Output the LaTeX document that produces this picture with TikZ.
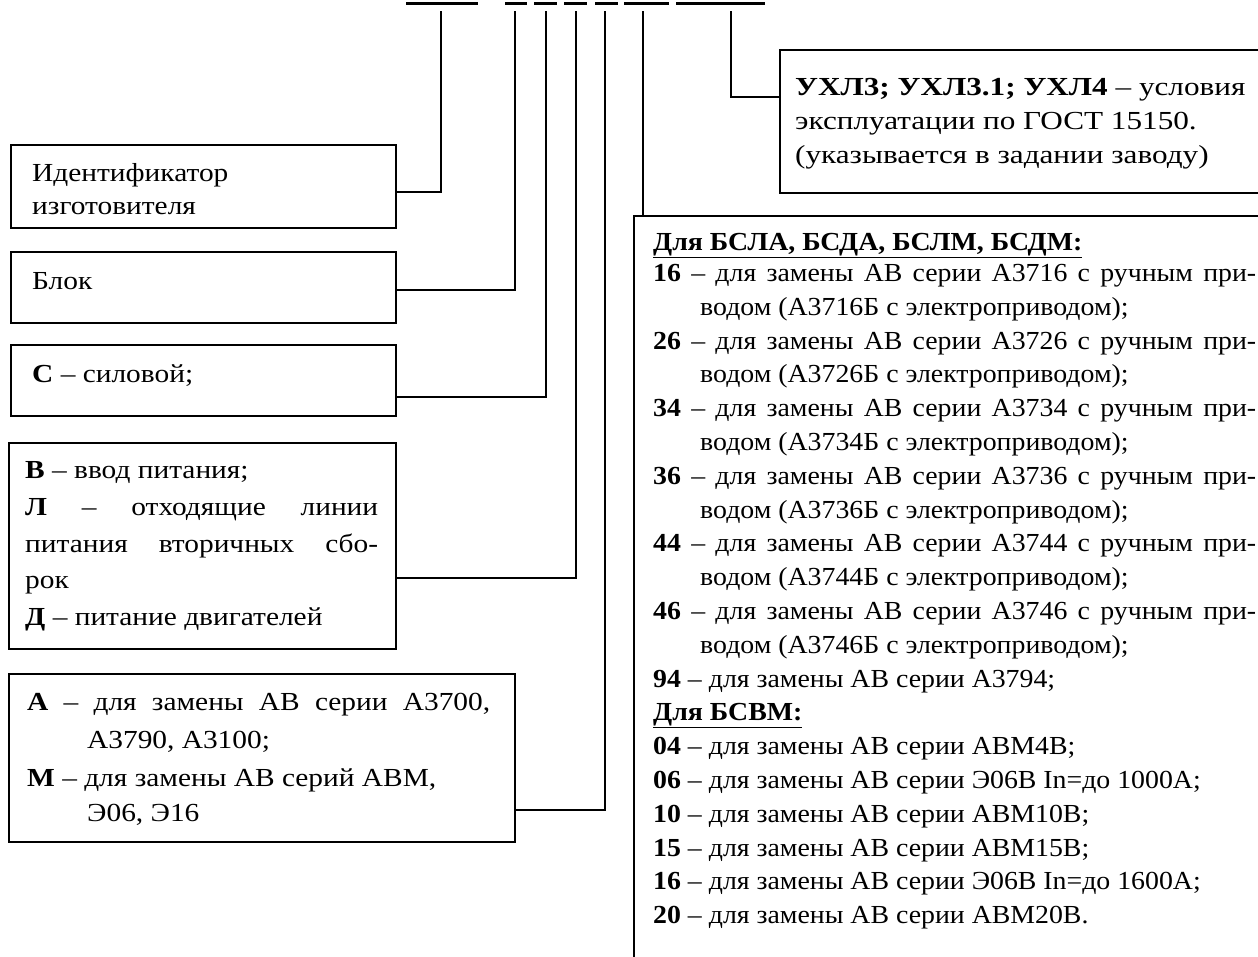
\documentclass[tikz,border=0pt]{standalone}
\usepackage{fontspec}
\setmainfont{Liberation Serif}
\newfontfamily\fLeft[FakeStretch=1.13]{Liberation Serif}
\newfontfamily\fUhl[FakeStretch=1.2]{Liberation Serif}
\newfontfamily\fBig[FakeStretch=1.07]{Liberation Serif}
\begin{document}
\begin{tikzpicture}[x=1pt,y=-1pt]
\tikzset{
  box/.style={draw, line width=2pt, inner sep=0pt, anchor=north west},
  conn/.style={line width=2pt},
  seg/.style={line width=3pt},
  tx/.style={anchor=base west, inner sep=0pt},
  lt/.style={tx, font=\fLeft\fontsize{26}{30}\selectfont},
  ut/.style={tx, font=\fUhl\fontsize{26}{30}\selectfont},
  bt/.style={tx, font=\fBig\fontsize{26}{30}\selectfont},
}
\useasboundingbox (0,0) rectangle (1258,956);
% code field underlines
\draw[seg] (406,3) -- (478,3);
\draw[seg] (505,3) -- (527,3);
\draw[seg] (534,3) -- (557,3);
\draw[seg] (564,3) -- (587,3);
\draw[seg] (595,3) -- (618,3);
\draw[seg] (624,3) -- (669,3);
\draw[seg] (676,3) -- (765,3);
% connector tops
\coordinate (t1) at (441,11);
\coordinate (t2) at (515,11);
\coordinate (t3) at (546,11);
\coordinate (t4) at (576,11);
\coordinate (t5) at (605,11);
\coordinate (t6) at (643,11);
\coordinate (t7) at (731,11);
% boxes
\node[box, minimum width=385pt, minimum height=83pt] (ident) at (10,144) {};
\node[box, minimum width=385pt, minimum height=71pt] (blok) at (10,251) {};
\node[box, minimum width=385pt, minimum height=71pt] (sil) at (10,344) {};
\node[box, minimum width=387pt, minimum height=206pt] (vvod) at (8,442) {};
\node[box, minimum width=506pt, minimum height=168pt] (zam) at (8,673) {};
\node[box, minimum width=520pt, minimum height=143pt] (uhl) at (779,49) {};
\node[box, minimum width=700pt, minimum height=800pt] (big) at (633,215) {};
% connectors
\draw[conn] (ident.east |- 0,192) -| (t1);
\draw[conn] (blok.east |- 0,290) -| (t2);
\draw[conn] (sil.east |- 0,397) -| (t3);
\draw[conn] (vvod.east |- 0,578) -| (t4);
\draw[conn] (zam.east |- 0,810) -| (t5);
\draw[conn] (big.north west -| t6) -- (t6);
\draw[conn] (uhl.west |- 0,97) -| (t7);
% left texts
\node[lt] (i1) at (32,181) {Идентификатор};
\node[lt] (i2) at (32,214) {изготовителя};
\node[lt] (b1) at (32,289) {Блок};
\node[lt] (s1) at (32,382) {\textbf{С} – силовой;};
\node[lt] (v1) at (25,478) {\textbf{В} – ввод питания;};
\node[lt] (v2) at (25,515) {\makebox[353pt][s]{\textbf{Л} – отходящие линии}};
\node[lt] (v3) at (25,552) {\makebox[353pt][s]{питания вторичных сбо-}};
\node[lt] (v4) at (25,588) {рок};
\node[lt] (v5) at (25,625) {\textbf{Д} – питание двигателей};
\node[lt] (a1) at (27,710) {\makebox[463pt][s]{\textbf{А} – для замены АВ серии А3700,}};
\node[lt] (a2) at (87,748) {А3790, А3100;};
\node[lt] (a3) at (27,786) {\textbf{М} – для замены АВ серий АВМ,};
\node[lt] (a4) at (87,821) {Э06, Э16};
% UHL texts
\node[ut] (u1) at (795,95) {\textbf{УХЛ3; УХЛ3.1; УХЛ4} – условия};
\node[ut] (u2) at (795,129) {эксплуатации по ГОСТ 15150.};
\node[ut] (u3) at (795,163) {(указывается в задании заводу)};
% big box texts
\node[bt] (h1) at (653,250) {\underline{\textbf{Для БСЛА, БСДА, БСЛМ, БСДМ:}}};
\node[bt] (r1) at (653,281) {\makebox[603pt][s]{\textbf{16} – для замены АВ серии А3716 с ручным при-}};
\node[bt] (r2) at (700,315) {водом (А3716Б с электроприводом);};
\node[bt] (r3) at (653,349) {\makebox[603pt][s]{\textbf{26} – для замены АВ серии А3726 с ручным при-}};
\node[bt] (r4) at (700,382) {водом (А3726Б с электроприводом);};
\node[bt] (r5) at (653,416) {\makebox[603pt][s]{\textbf{34} – для замены АВ серии А3734 с ручным при-}};
\node[bt] (r6) at (700,450) {водом (А3734Б с электроприводом);};
\node[bt] (r7) at (653,484) {\makebox[603pt][s]{\textbf{36} – для замены АВ серии А3736 с ручным при-}};
\node[bt] (r8) at (700,518) {водом (А3736Б с электроприводом);};
\node[bt] (r9) at (653,551) {\makebox[603pt][s]{\textbf{44} – для замены АВ серии А3744 с ручным при-}};
\node[bt] (r10) at (700,585) {водом (А3744Б с электроприводом);};
\node[bt] (r11) at (653,619) {\makebox[603pt][s]{\textbf{46} – для замены АВ серии А3746 с ручным при-}};
\node[bt] (r12) at (700,653) {водом (А3746Б с электроприводом);};
\node[bt] (r13) at (653,687) {\textbf{94} – для замены АВ серии А3794;};
\node[bt] (h2) at (653,720) {\underline{\textbf{Для БСВМ:}}};
\node[bt] (r14) at (653,754) {\textbf{04} – для замены АВ серии АВМ4В;};
\node[bt] (r15) at (653,788) {\textbf{06} – для замены АВ серии Э06В In=до 1000А;};
\node[bt] (r16) at (653,822) {\textbf{10} – для замены АВ серии АВМ10В;};
\node[bt] (r17) at (653,856) {\textbf{15} – для замены АВ серии АВМ15В;};
\node[bt] (r18) at (653,889) {\textbf{16} – для замены АВ серии Э06В In=до 1600А;};
\node[bt] (r19) at (653,923) {\textbf{20} – для замены АВ серии АВМ20В.};
\end{tikzpicture}
\end{document}
